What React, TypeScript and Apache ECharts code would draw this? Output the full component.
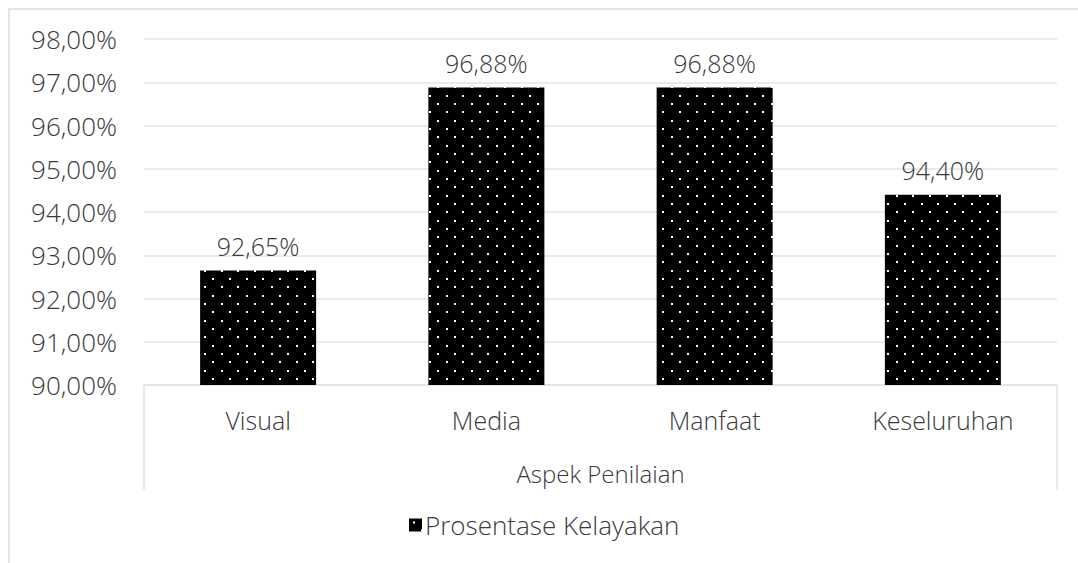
import React, { useEffect, useRef } from "react";
import * as echarts from "echarts";

const categories = ["Visual", "Media", "Manfaat", "Keseluruhan"];
const values = [92.65, 96.88, 96.88, 94.4];
const seriesName = "Prosentase Kelayakan";
const xAxisTitle = "Aspek Penilaian";
const yMin = 90;
const yMax = 98;
const yStep = 1;

const FONT = "'Open Sans', 'Noto Sans', sans-serif";
const TEXT = "#3a3a3a";
const GRID = "#dfe3e8";

function fmt(v: number) {
  return v.toFixed(2).replace(".", ",") + "%";
}

function makePattern(): string {
  const c = document.createElement("canvas");
  c.width = 50;
  c.height = 50;
  const ctx = c.getContext("2d")!;
  ctx.fillStyle = "#000";
  ctx.fillRect(0, 0, 50, 50);
  ctx.fillStyle = "#fff";
  for (let r = 0; r < 6; r++) {
    const y = Math.round((r * 50) / 6) + 3;
    const off = r % 2 === 0 ? 0 : 25 / 3;
    for (let k = 0; k < 3; k++) {
      const x = Math.round(off + (k * 50) / 3) + 4;
      ctx.fillRect(x, y, 2, 2);
    }
  }
  return c.toDataURL();
}

export default function App() {
  const ref = useRef<HTMLDivElement>(null);
  useEffect(() => {
    if (!ref.current) return;
    const chart = echarts.init(ref.current, undefined, { renderer: "svg" });
    const pattern = { image: makePattern(), repeat: "repeat" } as any;
    chart.setOption({
      animation: false,
      backgroundColor: "#fff",
      textStyle: { fontFamily: FONT, fontWeight: 300, color: TEXT },
      grid: { left: 144, right: 21, top: 39, bottom: 178, containLabel: false },
      legend: {
        left: 404,
        top: 507,
        itemWidth: 13,
        itemHeight: 13,
        itemGap: 10,
        icon: "rect",
        textStyle: { fontFamily: FONT, fontWeight: 300, fontSize: 26, color: TEXT, padding: [0, 0, 0, -2] },
        data: [seriesName],
      },
      xAxis: {
        type: "category",
        data: categories,
        axisLine: { show: true, lineStyle: { color: GRID, width: 1.5 } },
        axisTick: { show: false },
        axisLabel: { fontFamily: FONT, fontWeight: 300, fontSize: 25, color: TEXT, margin: 22 },
        name: xAxisTitle,
        nameLocation: "middle",
        nameGap: 76,
        nameTextStyle: { fontFamily: FONT, fontWeight: 300, fontSize: 24, color: TEXT },
      },
      yAxis: {
        type: "value",
        min: yMin,
        max: yMax,
        interval: yStep,
        axisLine: { show: false },
        axisTick: { show: false },
        splitLine: { lineStyle: { color: GRID, width: 1.5 } },
        axisLabel: {
          fontFamily: FONT,
          fontWeight: 300,
          fontSize: 26,
          color: TEXT,
          margin: 27,
          formatter: (v: number) => fmt(v),
        },
      },
      series: [
        {
          name: seriesName,
          type: "bar",
          data: values,
          barWidth: 116,
          itemStyle: { color: pattern },
          label: {
            show: true,
            position: "top",
            distance: 12,
            fontFamily: FONT,
            fontWeight: 300,
            fontSize: 25,
            color: TEXT,
            formatter: (p: any) => fmt(p.value),
          },
        },
      ],
      graphic: [
        {
          type: "polyline",
          shape: { points: [[9, 1000], [9, 9], [1100, 9]] },
          style: { stroke: "#d9dce1", lineWidth: 1.5, fill: "none" },
          silent: true,
        },
        {
          type: "line",
          shape: { x1: 144, y1: 385, x2: 144, y2: 490 },
          style: { stroke: GRID, lineWidth: 1.5 },
          silent: true,
        },
        {
          type: "line",
          shape: { x1: 1057, y1: 385, x2: 1057, y2: 490 },
          style: { stroke: GRID, lineWidth: 1.5 },
          silent: true,
        },
      ],
    });
    return () => chart.dispose();
  }, []);
  return (
    <div
      ref={ref}
      style={{ position: "absolute", left: 0, top: 0, width: 1078, height: 563 }}
    />
  );
}
